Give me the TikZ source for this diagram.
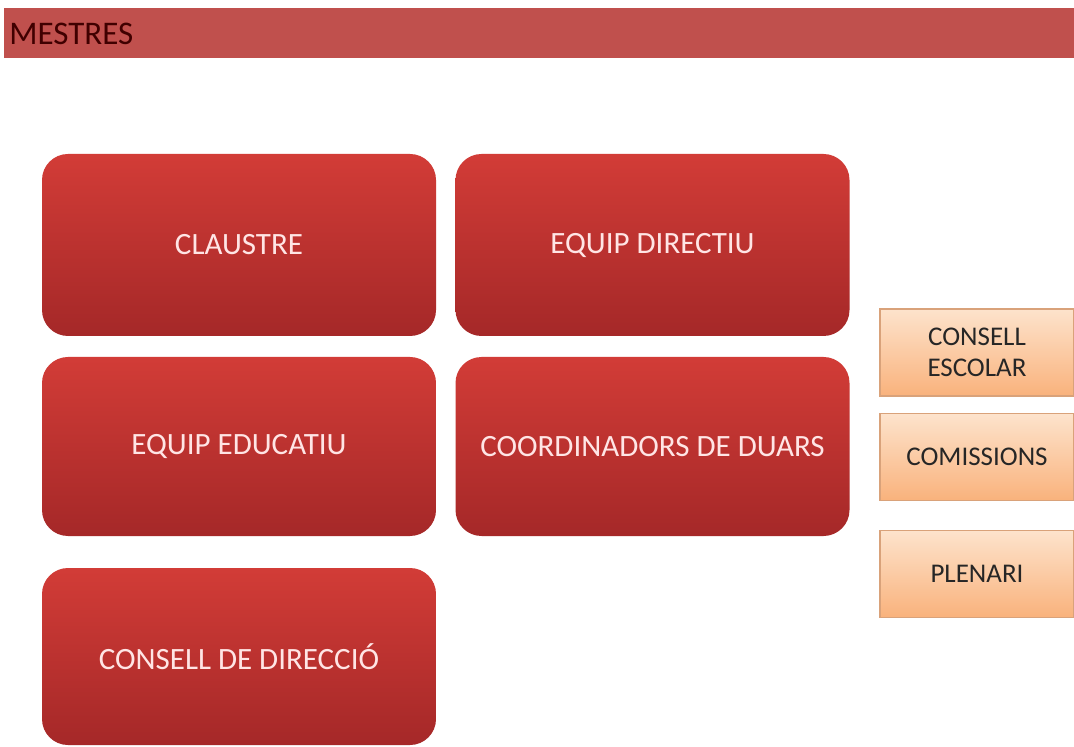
\documentclass[tikz,border=0pt]{standalone}
\usepackage{fontspec}
\setmainfont{Carlito}
\definecolor{barred}{HTML}{C0504D}
\definecolor{boxtop}{HTML}{D23C37}
\definecolor{boxbot}{HTML}{A52828}
\definecolor{peachtop}{HTML}{FDE3CC}
\definecolor{peachbot}{HTML}{F9B27C}
\definecolor{peachline}{HTML}{D9A27A}
\tikzset{
  redbox/.style={rounded corners=13pt, top color=boxtop, bottom color=boxbot, draw=none,
    minimum width=197pt, minimum height=91pt, text=white!90!red, font=\fontsize{15.5}{18}\selectfont},
  peachbox/.style={top color=peachtop, bottom color=peachbot, draw=peachline, line width=0.6pt,
    minimum width=97pt, minimum height=43.5pt, align=center, text=black!85, font=\fontsize{13.5}{15.5}\selectfont},
}
\begin{document}
\begin{tikzpicture}[x=0.5pt, y=-0.5pt]
		\useasboundingbox (0,0) rectangle (1074,747);
		\fill[white] (0,0) rectangle (1074,747);
		% title bar
		\fill[barred] (4,8) rectangle (1074,58);
		\node[anchor=west, inner sep=2pt, text=black!75!red, font=\fontsize{16.5}{18}\selectfont] (mestres) at (5,34) {MESTRES};
		% red boxes
		\node[redbox] (claustre) at (239,245) {CLAUSTRE};
		\node[redbox] (directiu) at (652.5,245) {EQUIP DIRECTIU};
		\node[redbox, minimum height=89.5pt] (educatiu) at (239,446.5) {EQUIP EDUCATIU};
		\node[redbox, minimum height=89.5pt] (duars) at (652.5,446.5) {COORDINADORS DE DUARS};
		\node[redbox, minimum height=88.5pt] (direccio) at (239,656.5) {CONSELL DE DIRECCIÓ};
		% right column
		\node[peachbox] (escolar) at (977,352.5) {CONSELL\\ESCOLAR};
		\node[peachbox] (comissions) at (977,457) {COMISSIONS};
		\node[peachbox] (plenari) at (977,574) {PLENARI};
	\end{tikzpicture}
\end{document}
